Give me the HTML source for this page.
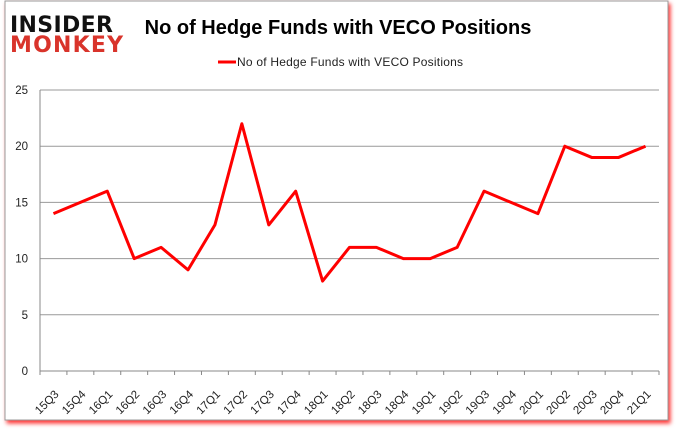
<!DOCTYPE html>
<html><head><meta charset="utf-8"><style>
body{margin:0;background:#fff;width:678px;height:431px;overflow:hidden;font-family:"Liberation Sans",sans-serif}
</style></head><body>
<svg width="678" height="431" xmlns="http://www.w3.org/2000/svg">
<defs><filter id="sh" x="-5%" y="-5%" width="110%" height="115%"><feDropShadow dx="2" dy="3" stdDeviation="2" flood-color="#f00" flood-opacity="0.8"/></filter></defs>
<rect x="5" y="1" width="663" height="419" fill="#fff" stroke="#999" filter="url(#sh)"/>
<g font-weight="bold" font-family="'DejaVu Sans',sans-serif">
<text x="10" y="32" font-size="22" fill="#111" letter-spacing="-1" textLength="102">INSIDER</text>
<text x="10" y="52" font-size="22" fill="#d9342b" letter-spacing="-1" textLength="112">MONKEY</text>
</g>
<text x="338" y="34" font-size="20" font-weight="bold" text-anchor="middle" fill="#000">No of Hedge Funds with VECO Positions</text>
<g>
<line x1="218" y1="62" x2="236" y2="62" stroke="#f00" stroke-width="3"/>
<text x="237" y="66" font-size="12" fill="#222" textLength="226">No of Hedge Funds with VECO Positions</text>
</g>
<g id="grid"></g><g id="axes"></g><g id="series"></g>
</svg>
<script>
const categories=["15Q3","15Q4","16Q1","16Q2","16Q3","16Q4","17Q1","17Q2","17Q3","17Q4","18Q1","18Q2","18Q3","18Q4","19Q1","19Q2","19Q3","19Q4","20Q1","20Q2","20Q3","20Q4","21Q1"];
const values=[14,15,16,10,11,9,13,22,13,16,8,11,11,10,10,11,16,15,14,20,19,19,20];
const yTicks=[0,5,10,15,20,25];
const NS="http://www.w3.org/2000/svg";
const L=40,R=659,T=90,B=371,yMax=25;
const step=(R-L)/categories.length;
const xs=i=>L+step*(i+0.5);
const ys=v=>B-(v/yMax)*(B-T);
function mk(tag,attrs,parent){const e=document.createElementNS(NS,tag);for(const k in attrs)e.setAttribute(k,attrs[k]);parent.appendChild(e);return e;}
const grid=document.getElementById('grid'),axes=document.getElementById('axes'),series=document.getElementById('series');
yTicks.forEach(t=>{
 const g=mk('line',{x1:L,x2:R,y1:ys(t),y2:ys(t),stroke:t===0?'#888':'#999','stroke-width':1},grid);
 
 
 const tx=mk('text',{x:L-12,y:ys(t)+4,'font-size':11.5,'text-anchor':'end',fill:'#222'},axes);
 tx.textContent=t;
 
 
});
const ya=mk('line',{x1:L,x2:L,y1:T,y2:B+4,stroke:'#888'},axes);


for(let i=0;i<=categories.length;i++){mk('line',{x1:L+step*i,x2:L+step*i,y1:B,y2:B+4,stroke:'#888'},axes);}
categories.forEach((c,i)=>{
 const x=xs(i),y=B+14;
 const tx=mk('text',{x:x+6,y:y+10,'font-size':11.5,'text-anchor':'end',fill:'#222',transform:`rotate(-45 ${x+6} ${y+10})`},axes);
 tx.textContent=c;
 
 
});
const p=mk('polyline',{points:values.map((v,i)=>xs(i)+','+ys(v)).join(' '),fill:'none',stroke:'#f00','stroke-width':3,'stroke-linejoin':'round'},series);


</script>
</body></html>
